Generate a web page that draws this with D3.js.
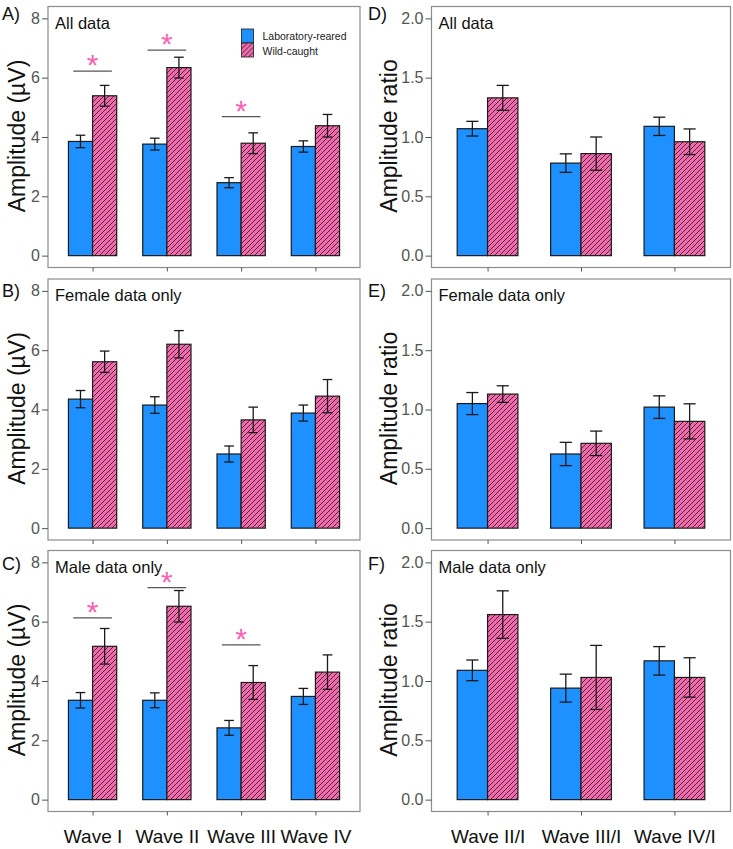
<!DOCTYPE html>
<html>
<head>
<meta charset="utf-8">
<script src="https://cdn.jsdelivr.net/npm/d3@7"></script>
<style>
  body { margin: 0; background: #fff; }
  svg { font-family: "Liberation Sans", Arial, sans-serif; }
</style>
</head>
<body>
<div id="myPlot"></div>
<script>
// categories
const waves = ["Wave I", "Wave II", "Wave III", "Wave IV"];
const ratios = ["Wave II/I", "Wave III/I", "Wave IV/I"];
const groups = ["Laboratory-reared", "Wild-caught"];
const ampTicks = [0, 2, 4, 6, 8];
const ratioTicks = [0, 0.5, 1, 1.5, 2];

// amplitude (uV), mean and SE
const allLab = [3.85, 3.76, 2.46, 3.68];
const allLabSe = [0.21, 0.20, 0.17, 0.19];
const allWild = [5.39, 6.34, 3.79, 4.38];
const allWildSe = [0.35, 0.35, 0.35, 0.38];
const femLab = [4.35, 4.15, 2.50, 3.88];
const femLabSe = [0.29, 0.28, 0.27, 0.27];
const femWild = [5.61, 6.20, 3.65, 4.45];
const femWildSe = [0.36, 0.46, 0.43, 0.56];
const maleLab = [3.35, 3.35, 2.42, 3.48];
const maleLabSe = [0.26, 0.25, 0.25, 0.27];
const maleWild = [5.17, 6.52, 3.95, 4.30];
const maleWildSe = [0.60, 0.53, 0.57, 0.58];

// amplitude ratios, mean and SE
const allLabR = [1.07, 0.78, 1.09];
const allLabRSe = [0.062, 0.078, 0.077];
const allWildR = [1.33, 0.86, 0.96];
const allWildRSe = [0.105, 0.14, 0.108];
const femLabR = [1.05, 0.625, 1.02];
const femLabRSe = [0.093, 0.098, 0.095];
const femWildR = [1.13, 0.715, 0.90];
const femWildRSe = [0.07, 0.103, 0.148];
const maleLabR = [1.09, 0.94, 1.17];
const maleLabRSe = [0.087, 0.118, 0.12];
const maleWildR = [1.56, 1.03, 1.03];
const maleWildRSe = [0.20, 0.27, 0.166];

// significance markers (height of the bar line)
const sigAllWaves = ["Wave I", "Wave II", "Wave III"];
const sigAllY = [6.22, 6.93, 4.69];
const sigMaleWaves = ["Wave I", "Wave II", "Wave III"];
const sigMaleY = [6.13, 7.15, 5.22];

const blue = "#1e90ff";
const pink = "#f668ac";

const svg = d3.select("#myPlot").append("svg")
  .attr("width", 733).attr("height", 849);

const defs = svg.append("defs");
const pat = defs.append("pattern")
  .attr("id", "hatch")
  .attr("patternUnits", "userSpaceOnUse")
  .attr("width", 5).attr("height", 5);
pat.append("rect").attr("width", 5).attr("height", 5).attr("fill", pink);
pat.append("path")
  .attr("d", "M-1,1 l2,-2 M0,5 l5,-5 M4,6 l2,-2")
  .attr("stroke", "#2a2a2a").attr("stroke-width", 0.9);

const rowTop = [6.5, 279, 550.5];
const rowLabelY = [19.5, 296.5, 570];
const panelH = 261;

const panels = [
  {tag: "A)", title: "All data", col: 0, row: 0, lab: allLab, labSe: allLabSe, wild: allWild, wildSe: allWildSe, sigW: sigAllWaves, sigY: sigAllY, legend: true},
  {tag: "B)", title: "Female data only", col: 0, row: 1, lab: femLab, labSe: femLabSe, wild: femWild, wildSe: femWildSe},
  {tag: "C)", title: "Male data only", col: 0, row: 2, lab: maleLab, labSe: maleLabSe, wild: maleWild, wildSe: maleWildSe, sigW: sigMaleWaves, sigY: sigMaleY},
  {tag: "D)", title: "All data", col: 1, row: 0, lab: allLabR, labSe: allLabRSe, wild: allWildR, wildSe: allWildRSe},
  {tag: "E)", title: "Female data only", col: 1, row: 1, lab: femLabR, labSe: femLabRSe, wild: femWildR, wildSe: femWildRSe},
  {tag: "F)", title: "Male data only", col: 1, row: 2, lab: maleLabR, labSe: maleLabRSe, wild: maleWildR, wildSe: maleWildRSe}
];

function drawPanel(p) {
  const left = p.col === 0 ? 48 : 431.5;
  const right = p.col === 0 ? 360 : 730.5;
  const top = rowTop[p.row];
  const bottom = top + panelH;
  const cats = p.col === 0 ? waves : ratios;
  const ticks = p.col === 0 ? ampTicks : ratioTicks;
  const ymax = p.col === 0 ? 8 : 2;

  // ggplot-like discrete expansion of 0.6 on each side
  const n = cats.length;
  const unit = (right - left) / (n - 1 + 1.2);
  const x = d3.scalePoint().domain(cats).range([left + 0.6 * unit, right - 0.6 * unit]);
  const y = d3.scaleLinear().domain([-0.05 * ymax, 1.05 * ymax]).range([bottom, top]);
  const half = 0.325 * unit;
  const g = svg.append("g");

  g.append("rect")
    .attr("x", left).attr("y", top)
    .attr("width", right - left).attr("height", panelH)
    .attr("fill", "none").attr("stroke", "#8c8c8c").attr("stroke-width", 1.2);

  // y axis
  const yAxis = g.append("g")
    .attr("transform", "translate(" + left + ",0)")
    .call(d3.axisLeft(y).tickValues(ticks).tickSize(6).tickPadding(2)
      .tickFormat(p.col === 0 ? d3.format("d") : d3.format(".1f")));
  yAxis.select(".domain").remove();
  yAxis.selectAll("line").attr("stroke", "#555");
  yAxis.selectAll("text").attr("fill", "#555").style("font-size", "16px")
    .style("font-family", "Liberation Sans, Arial, sans-serif");

  // x axis ticks
  const xAxis = g.append("g")
    .attr("transform", "translate(0," + bottom + ")")
    .call(d3.axisBottom(x).tickSize(4).tickPadding(14));
  xAxis.select(".domain").remove();
  xAxis.selectAll("line").attr("stroke", "#555");
  if (p.row === 2) {
    xAxis.selectAll("text").attr("fill", "#111").style("font-size", "19px")
      .style("font-family", "Liberation Sans, Arial, sans-serif")
      .attr("y", 843 - bottom).attr("dy", 0);
  } else {
    xAxis.selectAll("text").remove();
  }

  // bars
  const rows = cats.map((c, i) => [
    {cat: c, grp: 0, v: p.lab[i], se: p.labSe[i]},
    {cat: c, grp: 1, v: p.wild[i], se: p.wildSe[i]}
  ]).flat();

  g.selectAll(".bar").data(rows).enter().append("rect")
    .attr("class", "bar")
    .attr("x", d => x(d.cat) - half + d.grp * half)
    .attr("y", d => y(d.v))
    .attr("width", half)
    .attr("height", d => y(0) - y(d.v))
    .attr("fill", d => d.grp === 0 ? blue : "url(#hatch)")
    .attr("stroke", "#1a1a1a").attr("stroke-width", 1.2);

  // error bars
  const cap = 0.065 * unit;
  const eb = g.selectAll(".err").data(rows).enter().append("g").attr("class", "err")
    .attr("stroke", "#1a1a1a").attr("stroke-width", 1.3);
  const cx = d => x(d.cat) - half / 2 + d.grp * half;
  eb.append("line").attr("x1", cx).attr("x2", cx)
    .attr("y1", d => y(d.v + d.se)).attr("y2", d => y(d.v - d.se));
  eb.append("line").attr("x1", d => cx(d) - cap).attr("x2", d => cx(d) + cap)
    .attr("y1", d => y(d.v + d.se)).attr("y2", d => y(d.v + d.se));
  eb.append("line").attr("x1", d => cx(d) - cap).attr("x2", d => cx(d) + cap)
    .attr("y1", d => y(d.v - d.se)).attr("y2", d => y(d.v - d.se));

  // significance
  if (p.sigW) {
    const sig = p.sigW.map((w, i) => ({w: w, v: p.sigY[i]}));
    g.selectAll(".sigline").data(sig).enter().append("line")
      .attr("x1", d => x(d.w) - 0.26 * unit).attr("x2", d => x(d.w) + 0.26 * unit)
      .attr("y1", d => y(d.v)).attr("y2", d => y(d.v))
      .attr("stroke", "#555").attr("stroke-width", 1.2);
    g.selectAll(".star").data(sig).enter().append("text")
      .attr("x", d => x(d.w)).attr("y", d => y(d.v) - 13 + 17)
      .attr("text-anchor", "middle")
      .attr("fill", "#ff5fb0").style("font-size", "30px")
      .text("*");
  }

  // labels
  g.append("text").attr("x", p.col === 0 ? 2 : 368).attr("y", rowLabelY[p.row])
    .style("font-size", "18px").attr("fill", "#111").text(p.tag);
  g.append("text").attr("x", left + 7).attr("y", top + 22)
    .style("font-size", "16.5px").attr("fill", "#111").text(p.title);

  const tx = p.col === 0 ? 25 : 397;
  const ty = top + panelH / 2 - 1;
  g.append("text")
    .attr("transform", "translate(" + tx + "," + ty + ") rotate(-90)")
    .attr("text-anchor", "middle")
    .style("font-size", "23px").attr("fill", "#111")
    .text(p.col === 0 ? "Amplitude (µV)" : "Amplitude ratio");

  if (p.legend) {
    const lg = g.append("g").attr("transform", "translate(241.5,29)");
    lg.selectAll("rect").data(groups).enter().append("rect")
      .attr("x", 0).attr("y", (d, i) => i * 14)
      .attr("width", 12).attr("height", 14)
      .attr("fill", (d, i) => i === 0 ? blue : "url(#hatch)")
      .attr("stroke", "#1a1a1a").attr("stroke-width", 0.8);
    lg.selectAll("text").data(groups).enter().append("text")
      .attr("x", 21).attr("y", (d, i) => i * 15 + 10.5)
      .style("font-size", "10.5px").attr("fill", "#222")
      .text(d => d);
  }
}

panels.forEach(drawPanel);
</script>
</body>
</html>
